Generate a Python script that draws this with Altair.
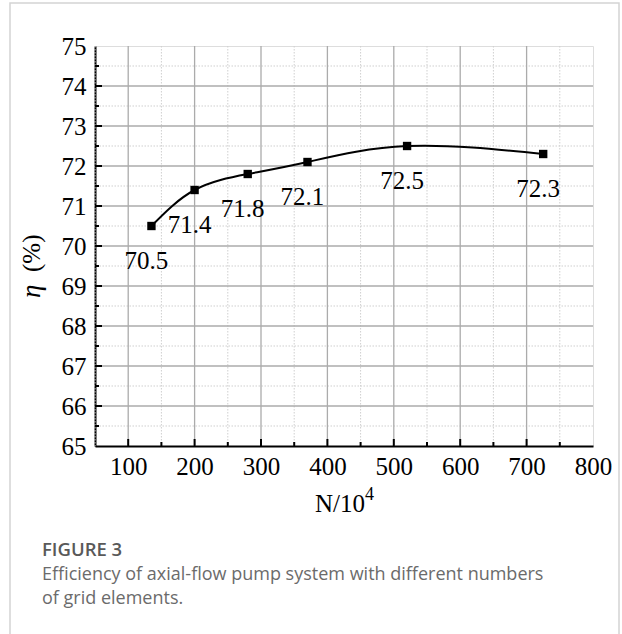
import altair as alt
import pandas as pd

# Grid resolution study: efficiency vs. number of grid elements (x 10^4)
grid_n = [135, 200, 280, 370, 520, 725]
efficiency = [70.5, 71.4, 71.8, 72.1, 72.5, 72.3]
point_labels = ["70.5", "71.4", "71.8", "72.1", "72.5", "72.3"]

x_major = [100, 200, 300, 400, 500, 600, 700, 800]
x_minor = [50, 150, 250, 350, 450, 550, 650, 750]
y_major = [65, 66, 67, 68, 69, 70, 71, 72, 73, 74, 75]
y_minor = [65.5, 66.5, 67.5, 68.5, 69.5, 70.5, 71.5, 72.5, 73.5, 74.5]

caption_head = "FIGURE 3"
caption_lines = [
    "Efficiency of axial-flow pump system with different numbers",
    "of grid elements.",
]

W, H = 498, 400
SERIF = "Liberation Serif"
SANS = "Open Sans"

df = pd.DataFrame({"n": grid_n, "eta": efficiency, "lab": point_labels})
xs = alt.Scale(domain=[50, 800], nice=False, zero=False)
ys = alt.Scale(domain=[65, 75], nice=False, zero=False)

x_axis = alt.Axis(values=x_major, grid=False, ticks=False, domainColor="black",
                  domainWidth=2, labelFont=SERIF, labelFontSize=25,
                  labelColor="black", labelPadding=8, title=None,
                  labelFlush=False, labelOverlap=False)
y_axis = alt.Axis(values=y_major, grid=False, ticks=False, domainColor="black",
                  domainWidth=2, labelFont=SERIF, labelFontSize=25,
                  labelColor="black", labelPadding=9, title=None, format="d",
                  labelFlush=False, labelOverlap=False)


# every layer carries the same axis definition so the merged axes agree
def X(field):
    return alt.X(field, scale=xs, axis=x_axis)


def Y(field):
    return alt.Y(field, scale=ys, axis=y_axis)


# gridlines
gx_minor = alt.Chart(pd.DataFrame({"v": x_minor})).mark_rule(
    color="#cfcfcf", strokeWidth=1, strokeDash=[1.5, 1.5]).encode(x=X("v:Q"))
gy_minor = alt.Chart(pd.DataFrame({"v": y_minor})).mark_rule(
    color="#cfcfcf", strokeWidth=1, strokeDash=[1.5, 1.5]).encode(y=Y("v:Q"))
gx_major = alt.Chart(pd.DataFrame({"v": x_major[:-1]})).mark_rule(
    color="#ababab", strokeWidth=1.3).encode(x=X("v:Q"))
gy_major = alt.Chart(pd.DataFrame({"v": y_major[1:-1]})).mark_rule(
    color="#ababab", strokeWidth=1.3).encode(y=Y("v:Q"))

# inward ticks on bottom and left axes
tx_major = alt.Chart(pd.DataFrame({"v": x_major[:-1]})).mark_rule(
    color="black", strokeWidth=2).encode(
    x=X("v:Q"), y=alt.value(H), y2=alt.value(H - 7))
tx_minor = alt.Chart(pd.DataFrame({"v": x_minor[1:]})).mark_rule(
    color="black", strokeWidth=2).encode(
    x=X("v:Q"), y=alt.value(H), y2=alt.value(H - 4))
ty_major = alt.Chart(pd.DataFrame({"v": y_major[1:-1]})).mark_rule(
    color="black", strokeWidth=2).encode(
    y=Y("v:Q"), x=alt.value(0), x2=alt.value(7))
ty_minor = alt.Chart(pd.DataFrame({"v": y_minor})).mark_rule(
    color="black", strokeWidth=2).encode(
    y=Y("v:Q"), x=alt.value(0), x2=alt.value(4))

base = alt.Chart(df)
curve = base.mark_line(color="black", strokeWidth=2, interpolate="natural").encode(
    x=X("n:Q"), y=Y("eta:Q"))
pts = base.mark_point(shape="square", filled=True, color="black", size=70,
                      opacity=1).encode(x=X("n:Q"), y=Y("eta:Q"))
labels = base.mark_text(font=SERIF, fontSize=25, color="black", dx=-5, dy=35,
                        baseline="middle").encode(
    x=X("n:Q"), y=Y("eta:Q"), text="lab:N")

one = pd.DataFrame({"k": [0]})


def note(text, x, y, **style):
    return alt.Chart(one).mark_text(**style).encode(
        x=alt.value(x), y=alt.value(y), text=alt.value(text))


# axis titles
xt_main = note("N/10", 270, 466, font=SERIF, fontSize=25, color="black",
               align="right", baseline="alphabetic")
xt_sup = note("4", 270, 454, font=SERIF, fontSize=18, color="black",
              align="left", baseline="alphabetic")
yt_eta = note("η", -63, 252, font=SERIF, fontSize=27, fontStyle="italic",
              color="black", align="left", baseline="middle", angle=270)
yt_pct = note("(%)", -63, 226, font=SERIF, fontSize=25, color="black",
              align="left", baseline="middle", angle=270)

# caption block
cap_head = note(caption_head, -53, 504, font=SANS, fontSize=18.5, fontWeight=600,
                color="#595959", align="left", baseline="middle")
cap_l1 = note(caption_lines[0], -53, 529, font=SANS, fontSize=18,
              color="#6b6b6b", align="left", baseline="middle")
cap_l2 = note(caption_lines[1], -53, 553, font=SANS, fontSize=18,
              color="#6b6b6b", align="left", baseline="middle")

frame = alt.Chart(one).mark_rect(filled=False, stroke="#d4d4d4",
                                 strokeWidth=1.5).encode(
    x=alt.value(-85), x2=alt.value(524), y=alt.value(-43), y2=alt.value(600))

chart = alt.layer(
    frame, gx_minor, gy_minor, gx_major, gy_major,
    tx_major, tx_minor, ty_major, ty_minor,
    curve, pts, labels, xt_main, xt_sup, yt_eta, yt_pct,
    cap_head, cap_l1, cap_l2,
).properties(
    width=W, height=H,
    autosize=alt.AutoSizeParams(type="none"),
    padding={"left": 95, "top": 46, "right": 29, "bottom": 188},
).configure_axis(labelOverlap=False).configure_view(
    stroke="black", strokeWidth=2).configure(background="white")

chart.save("out.html", embed_options={"renderer": "svg", "actions": False})
